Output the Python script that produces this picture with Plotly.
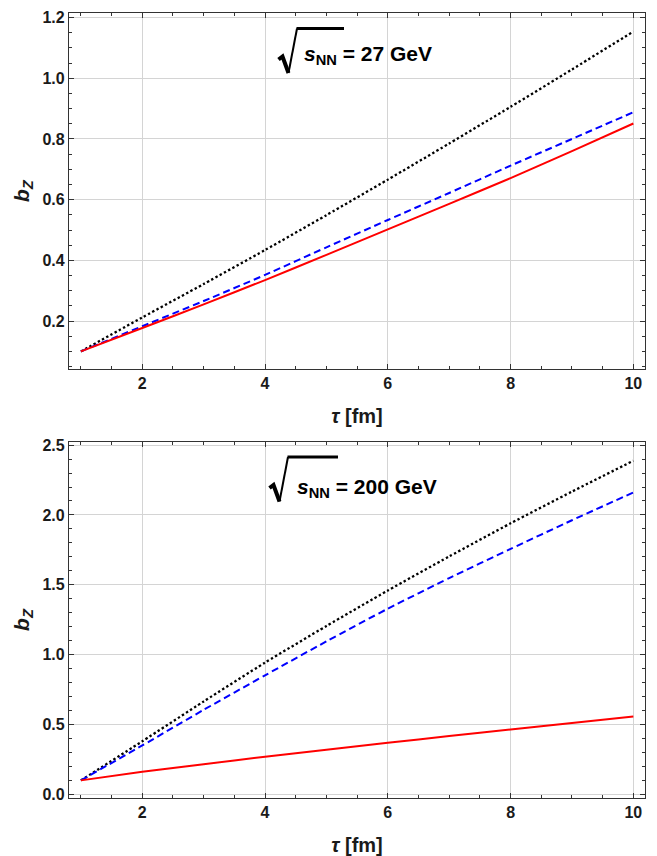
import plotly.graph_objects as go

# ---------------- data ----------------
tau = [1, 2, 3, 4, 5, 6, 7, 8, 9, 10]

# top panel: sqrt(s_NN) = 27 GeV
b27_black = [0.100, 0.212, 0.322, 0.434, 0.549, 0.666, 0.785, 0.906, 1.029, 1.154]
b27_blue = [0.100, 0.183, 0.266, 0.352, 0.443, 0.533, 0.622, 0.712, 0.800, 0.888]
b27_red = [0.100, 0.177, 0.255, 0.335, 0.418, 0.502, 0.586, 0.671, 0.760, 0.851]

# bottom panel: sqrt(s_NN) = 200 GeV
b200_black = [0.100, 0.380, 0.665, 0.943, 1.205, 1.459, 1.703, 1.940, 2.167, 2.388]
b200_blue = [0.100, 0.350, 0.605, 0.852, 1.095, 1.329, 1.548, 1.757, 1.962, 2.161]
b200_red = [0.100, 0.161, 0.216, 0.269, 0.320, 0.369, 0.417, 0.464, 0.511, 0.557]

energy_labels = ["27 GeV", "200 GeV"]
x_ticks = [2, 4, 6, 8, 10]
y_ticks_top = [0.2, 0.4, 0.6, 0.8, 1.0, 1.2]
y_ticks_bottom = [0.0, 0.5, 1.0, 1.5, 2.0, 2.5]

# ---------------- figure ----------------
PAGE_W, PAGE_H = 657, 856
OFF = 8  # default page body margin
W, H = PAGE_W - OFF, PAGE_H - OFF
FONT = "Liberation Sans, Arial, Helvetica, sans-serif"


def px(x):
    # page pixel -> paper fraction
    return (x - OFF) / W


def py(y):
    return 1 - (y - OFF) / H


fig = go.Figure()

line_styles = [
    ("black", "2.4px,2.4px", 2.3),
    ("#0000FF", "7px,4px", 2.0),
    ("#FF0000", "solid", 2.0),
]

panels = [
    ("x", "y", [b27_black, b27_blue, b27_red]),
    ("x2", "y2", [b200_black, b200_blue, b200_red]),
]
for xa, ya, series in panels:
    for (color, dash, w), vals in zip(line_styles, series):
        fig.add_trace(go.Scatter(
            x=tau, y=vals, mode="lines", xaxis=xa, yaxis=ya,
            line=dict(color=color, dash=dash, width=w, shape="spline", smoothing=0.6),
            showlegend=False, hoverinfo="skip",
        ))

x_dom = [px(69), px(645)]
top_dom = [py(369), py(13.3)]
bot_dom = [py(797.7), py(442.3)]

common_axis = dict(
    automargin=False,
    showline=True, linecolor="#333333", linewidth=1.2, mirror="ticks",
    ticks="inside", ticklen=5, tickwidth=1, tickcolor="#333333",
    showgrid=True, gridcolor="rgb(212,212,212)", gridwidth=1,
    zeroline=False,
    tickfont=dict(family=FONT, size=16, color="#1a1a1a", weight="bold"),
)

xaxis_common = dict(
    common_axis, range=[0.806, 10.19], tickvals=x_ticks,
    ticktext=[str(v) for v in x_ticks],
    minor=dict(dtick=0.5, tick0=0, ticks="inside", ticklen=3, tickcolor="#333333", showgrid=False),
    title=dict(text="<b><i>τ</i> [fm]</b>", font=dict(family=FONT, size=20, color="#1a1a1a"), standoff=17),
)

ytitle = dict(text="<b><i>b</i><sub><i>Z</i></sub></b>", font=dict(family=FONT, size=21, color="#1a1a1a"), standoff=7)

fig.update_layout(
    width=W, height=H,
    margin=dict(l=0, r=0, t=0, b=0, autoexpand=False),
    paper_bgcolor="white", plot_bgcolor="white",
    showlegend=False,
    xaxis=dict(xaxis_common, domain=x_dom, anchor="y"),
    yaxis=dict(
        common_axis, domain=top_dom, anchor="x", range=[0.042, 1.214],
        tickvals=y_ticks_top, ticktext=[f"{v:.1f}" for v in y_ticks_top],
        minor=dict(dtick=0.05, tick0=0, ticks="inside", ticklen=3, tickcolor="#333333", showgrid=False),
        title=ytitle,
    ),
    xaxis2=dict(xaxis_common, domain=x_dom, anchor="y2"),
    yaxis2=dict(
        common_axis, domain=bot_dom, anchor="x2", range=[-0.024, 2.52],
        tickvals=y_ticks_bottom, ticktext=[f"{v:.1f}" for v in y_ticks_bottom],
        minor=dict(dtick=0.1, tick0=0, ticks="inside", ticklen=3, tickcolor="#333333", showgrid=False),
        title=ytitle,
    ),
)


# radical sign drawn as decoration (paper coordinates)
def radical(x0, y0, over_end):
    # x0, y0: page pixel position of the top of the radical's rising stroke
    pts_tick = [(x0 - 18.5, y0 + 31), (x0 - 14.5, y0 + 28), (x0 - 8.5, y0 + 44.5)]
    path1 = "M " + " L ".join(f"{px(a):.5f},{py(b):.5f}" for a, b in pts_tick)
    path2 = f"M {px(x0 - 8.5):.5f},{py(y0 + 44.5):.5f} L {px(x0):.5f},{py(y0):.5f}"
    path3 = f"M {px(x0 - 0.5):.5f},{py(y0):.5f} L {px(over_end):.5f},{py(y0):.5f}"
    return [
        dict(type="path", path=path1, xref="paper", yref="paper", line=dict(color="black", width=4)),
        dict(type="path", path=path2, xref="paper", yref="paper", line=dict(color="black", width=2)),
        dict(type="path", path=path3, xref="paper", yref="paper", line=dict(color="black", width=3)),
    ]


shapes = radical(297, 28.5, 344) + radical(288, 457, 338)
fig.update_layout(shapes=shapes)

label_pos = [(301.5, 55), (295, 488.5)]
for (lx, ly), lab in zip(label_pos, energy_labels):
    fig.add_annotation(
        x=px(lx), y=py(ly), xref="paper", yref="paper",
        xanchor="left", yanchor="middle", showarrow=False,
        text=f"<b><i>s</i><sub>NN</sub> = {lab}</b>",
        font=dict(family=FONT, size=21, color="black"),
    )

fig.write_html("out.html")
